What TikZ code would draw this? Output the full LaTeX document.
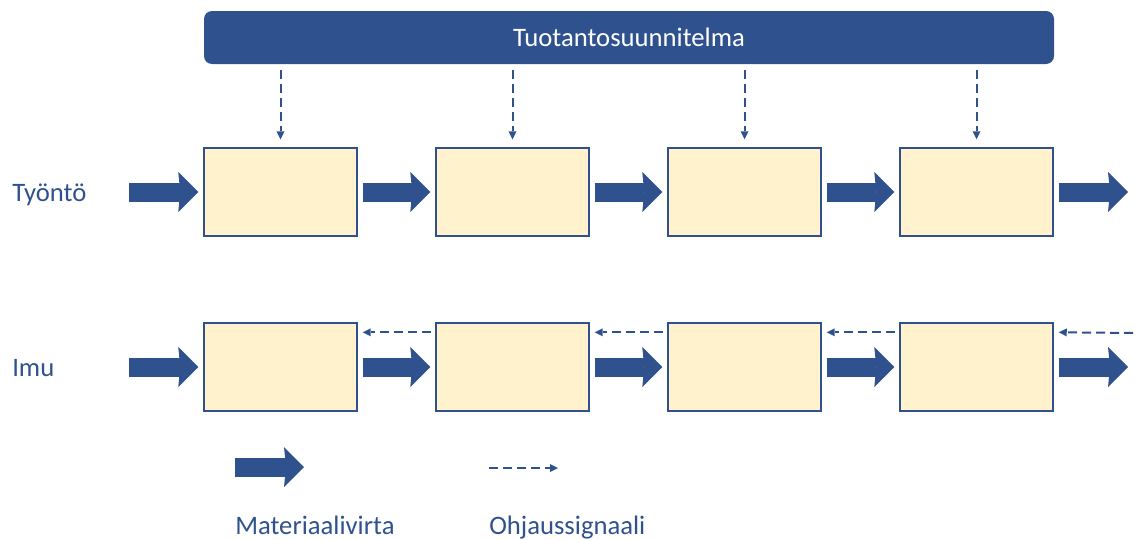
\documentclass[tikz,border=0pt]{standalone}
\usepackage{fontspec}
\setmainfont{Carlito}
\usetikzlibrary{arrows.meta,positioning}
\definecolor{planblue}{HTML}{2F528F}
\definecolor{boxfill}{HTML}{FFF2CC}
\tikzset{
  box/.style={draw=planblue, line width=1.1pt, fill=boxfill, minimum width=114.75pt, minimum height=66pt, inner sep=0pt},
  plan/.style={fill=planblue, rounded corners=6pt, minimum width=637.5pt, minimum height=39.75pt, text=white, font=\fontsize{20}{24}\selectfont},
  flow/.style={draw=planblue, line width=14.25pt, -{Stealth[length=15pt,width=30pt,inset=1.5pt,line width=0pt]}, shorten <=3.75pt, shorten >=3.75pt},
  sig/.style={draw=planblue, line width=1.5pt, dash pattern=on 6.75pt off 3.75pt, -{Triangle[length=6pt,width=6pt,line width=0pt]}},
  lbl/.style={text=planblue, font=\fontsize{20}{24}\selectfont, inner sep=0pt, anchor=base west}}
\begin{document}
\begin{tikzpicture}[x=0.75pt, y=-0.75pt]
  \useasboundingbox (0,0) rectangle (1135,539);
  % production plan
  \node[plan] (plan) at (629,37.5) {Tuotantosuunnitelma};
  % push row
  \node[lbl] (push) at (12,201) {Työntö};
  \node[box] (t1) at (280.5,192) {};
  \node[box, right=58.15pt of t1] (t2) {};
  \node[box, right=58.15pt of t2] (t3) {};
  \node[box, right=58.15pt of t3] (t4) {};
  \coordinate (tin) at (129,192);
  \coordinate (tout) at (1128,192);
  \draw[flow, shorten <=0pt] (tin) -- (t1);
  \draw[flow] (t1) -- (t2); \draw[flow] (t2) -- (t3); \draw[flow] (t3) -- (t4);
  \draw[flow, shorten >=0pt] (t4) -- (tout);
  \foreach \b in {t1,t2,t3,t4}
    \draw[sig, shorten <=4.5pt, shorten >=6pt] (plan.south -| \b.north) -- (\b.north);
  % pull row
  \node[lbl] (pull) at (12,376) {Imu};
  \node[box] (m1) at (280.5,367) {};
  \node[box, right=58.15pt of m1] (m2) {};
  \node[box, right=58.15pt of m2] (m3) {};
  \node[box, right=58.15pt of m3] (m4) {};
  \coordinate (min) at (129,367);
  \coordinate (mout) at (1128,367);
  \coordinate (pin) at (1133,333);
  \draw[flow, shorten <=0pt] (min) -- (m1);
  \draw[flow] (m1) -- (m2); \draw[flow] (m2) -- (m3); \draw[flow] (m3) -- (m4);
  \draw[flow, shorten >=0pt] (m4) -- (mout);
  \draw[sig, shorten <=3pt, shorten >=3.75pt] ([yshift=-7.5pt]m2.north west) -- ([yshift=-7.5pt]m1.north east);
  \draw[sig, shorten <=3pt, shorten >=3.75pt] ([yshift=-7.5pt]m3.north west) -- ([yshift=-7.5pt]m2.north east);
  \draw[sig, shorten <=3pt, shorten >=3.75pt] ([yshift=-7.5pt]m4.north west) -- ([yshift=-7.5pt]m3.north east);
  \draw[sig, shorten >=3.75pt] (pin) -- ([yshift=-7.5pt]m4.north east);
  % legend
  \coordinate (la) at (235,467);
  \coordinate (lb) at (304,467);
  \coordinate (sa) at (489,468);
  \coordinate (sb) at (558,468);
  \draw[flow, shorten <=0pt, shorten >=0pt] (la) -- (lb);
  \draw[sig] (sa) -- (sb);
  \node[lbl] (lmat) at (235,534) {Materiaalivirta};
  \node[lbl] (lsig) at (489,534) {Ohjaussignaali};
\end{tikzpicture}
\end{document}
